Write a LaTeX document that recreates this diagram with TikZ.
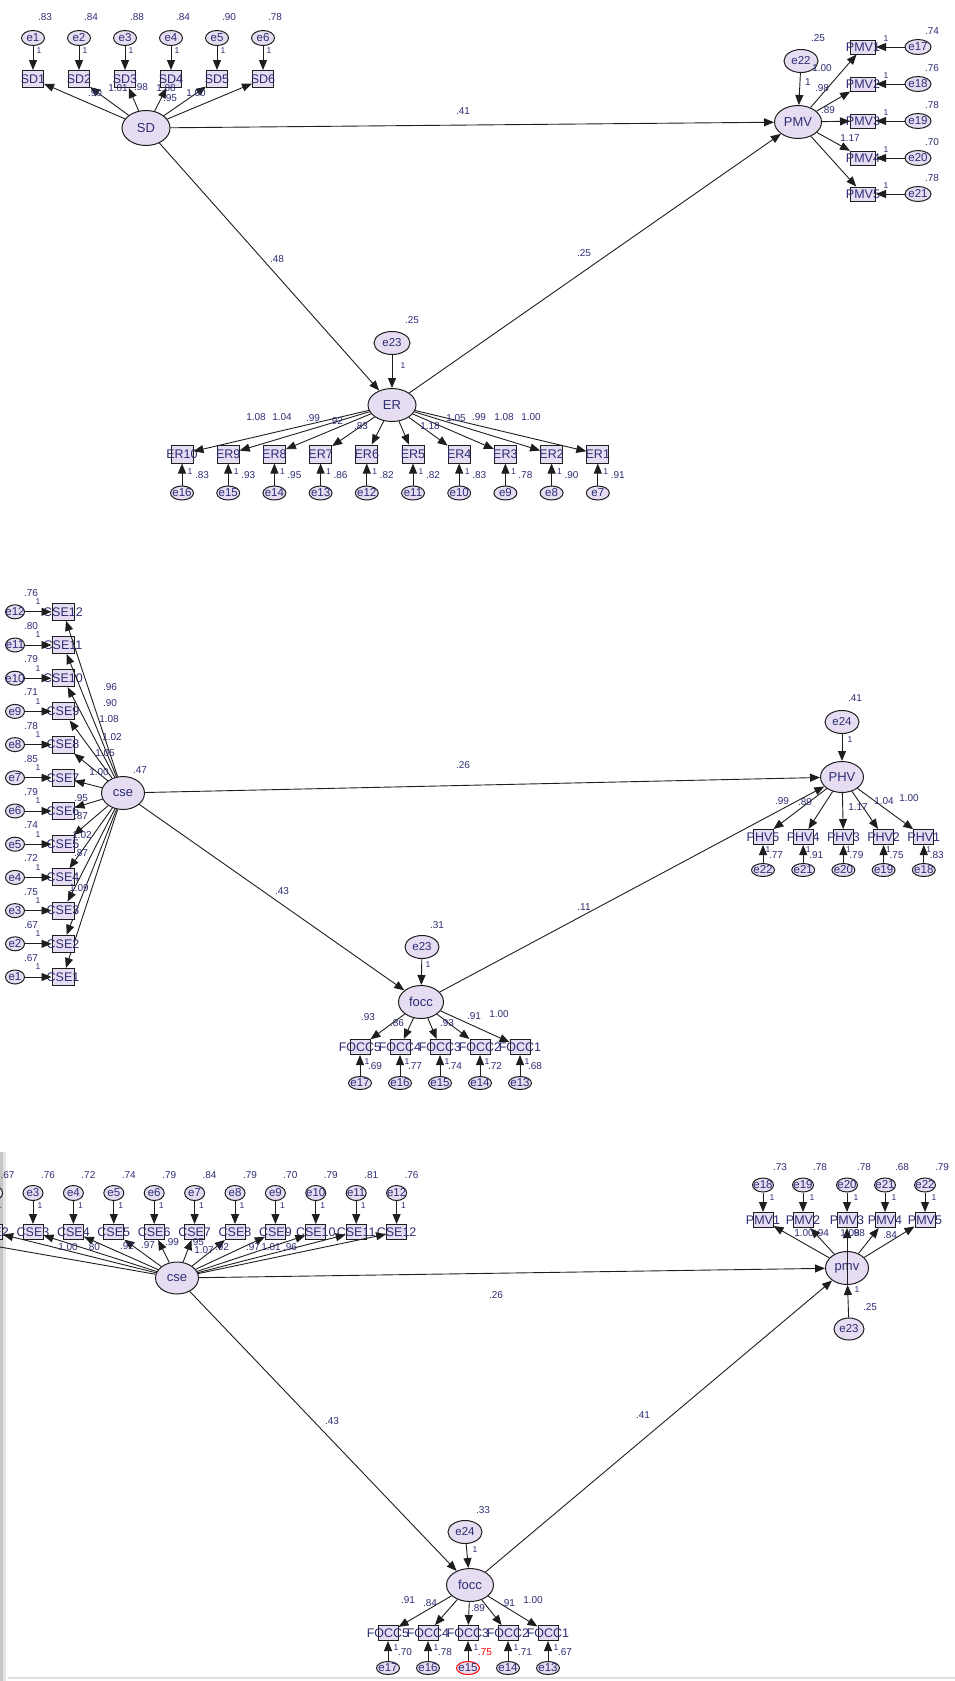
\documentclass[tikz,border=0pt]{standalone}
\usepackage{fontspec}
\setmainfont{Liberation Sans}
\usetikzlibrary{shapes.geometric,arrows.meta}
\definecolor{nodefill}{RGB}{230,221,242}
\definecolor{txtc}{RGB}{45,45,115}
\definecolor{linec}{RGB}{30,30,30}
\newcommand{\nm}[1]{\makebox[0pt]{#1}}
\tikzset{
  lat/.style={ellipse,draw=linec,fill=nodefill,line width=1pt,minimum width=46pt,minimum height=33pt,inner sep=0pt,text=txtc,font=\fontsize{13}{13}\selectfont},
  obs/.style={rectangle,draw=linec,fill=nodefill,line width=1pt,minimum width=21pt,minimum height=17pt,inner sep=0pt,text=txtc,font=\fontsize{12.5}{13}\selectfont},
  err/.style={ellipse,draw=linec,fill=nodefill,line width=1pt,minimum width=23pt,minimum height=15pt,inner sep=0pt,text=txtc,font=\fontsize{11.5}{12}\selectfont},
  dist/.style={err,minimum width=34pt,minimum height=23pt},
  lbl/.style={inner sep=0pt,text=txtc,font=\fontsize{10}{10}\selectfont},
  one/.style={inner sep=0pt,text=txtc,font=\fontsize{8.5}{9}\selectfont},
  arr/.style={draw=linec,line width=0.9pt,-{Triangle[length=10pt,width=8pt]}},
}
\begin{document}
\begin{tikzpicture}[x=1pt,y=-1pt]
  \useasboundingbox (0,0) rectangle (955,1681);
  \clip (0,0) rectangle (955,1681);

  % top model: SD, ER, PMV
  \node[lat,minimum width=48pt,minimum height=35pt] (sd) at (146,128) {\nm{SD}};
  \foreach \v [count=\i] in {.83,.84,.88,.84,.90,.78} {
    \node[err] (esd\i) at (33+46*\i-46,38) {\nm{e\i}};
    \node[obs] (sd\i) at (33+46*\i-46,79) {\nm{SD\i}};
    \node[lbl] (vsd\i) at (45+46*\i-46,17) {\v};
    \node[one] (osd\i) at (39+46*\i-46,51) {1};
    \draw[arr] (esd\i) -- (sd\i);
    \draw[arr] (sd) -- (sd\i);
  }
  \foreach \lab/\x/\y [count=\i] in {.90/95/93,1.01/118/88,.98/141/87,1.08/166/88,.95/170/98,1.00/196/93}
    \node[lbl] (lsd\i) at (\x,\y) {\lab};

  \node[lat,minimum width=47pt] (pmva) at (798,122) {\nm{PMV}};
  \node[dist] (ea22) at (801,61) {\nm{e22}};
  \draw[arr] (ea22) -- (pmva);
  \foreach \y/\v [count=\i] in {47/.74,84/.76,121/.78,158/.70,194/.78} {
    \pgfmathtruncatemacro\en{16+\i}
    \node[obs,minimum width=25pt,minimum height=14pt] (pmva\i) at (863,\y) {\nm{PMV\i}};
    \node[err,minimum width=26pt] (epmva\i) at (918,\y) {\nm{e\en}};
    \node[lbl] (vpmva\i) at (932,\y-16) {\v};
    \node[one] (opmva\i) at (886,\y-8) {1};
    \draw[arr] (epmva\i) -- (pmva\i);
    \draw[arr] (pmva) -- (pmva\i);
  }
  \foreach \lab/\x/\y [count=\i] in {.25/818/38,1/808/82,1.00/822/68,.98/822/88,.89/828/110,1.17/850/138}
    \node[lbl] (lpmva\i) at (\x,\y) {\lab};

  \node[lat,minimum width=48pt] (er) at (392,405) {\nm{ER}};
  \node[dist,minimum width=36pt] (ea23) at (392,343) {\nm{e23}};
  \draw[arr] (ea23) -- (er);
  \foreach \v [count=\i] in {.83,.93,.95,.86,.82,.82,.83,.78,.90,.91} {
    \pgfmathtruncatemacro\nr{11-\i}
    \pgfmathtruncatemacro\en{17-\i}
    \node[obs,minimum width=22pt,minimum height=18pt] (er\nr) at (182+46.2*\i-46.2,454) {\nm{ER\nr}};
    \node[err,minimum height=14pt] (eer\nr) at (182+46.2*\i-46.2,493) {\nm{e\en}};
    \node[lbl] (ver\nr) at (202+46.2*\i-46.2,475) {\v};
    \node[one] (oer\nr) at (190+46.2*\i-46.2,472) {1};
    \draw[arr] (eer\nr) -- (er\nr);
    \draw[arr] (er) -- (er\nr);
  }
  \foreach \lab/\x/\y [count=\i] in {1.08/256/417,1.04/282/417,.99/313/418,.92/336/421,.83/361/426,1.18/430/426,1.05/456/418,.99/479/417,1.08/504/417,1.00/531/417}
    \node[lbl] (ler\i) at (\x,\y) {\lab};
  \node[lbl] (ler0) at (412,320) {.25};
  \node[one] (oer0) at (403,366) {1};

  \draw[arr] (sd) -- (pmva);
  \draw[arr] (sd) -- (er);
  \draw[arr] (er) -- (pmva);
  \node[lbl] (pa1) at (463,111) {.41};
  \node[lbl] (pa2) at (277,259) {.48};
  \node[lbl] (pa3) at (584,253) {.25};

  % middle model: cse, focc, PHV
  \node[lat,minimum width=43pt] (cseb) at (123,793) {\nm{cse}};
  \foreach \v [count=\k] in {.67,.67,.75,.72,.74,.79,.85,.78,.71,.79,.80,.76} {
    \node[obs,minimum width=22pt] (cseb\k) at (63,977-33.2*\k+33.2) {\nm{CSE\k}};
    \node[err,minimum width=19pt,minimum height=14pt] (ecseb\k) at (15,977-33.2*\k+33.2) {\nm{e\k}};
    \node[lbl] (vcseb\k) at (31,958-33.2*\k+33.2) {\v};
    \node[one] (ocseb\k) at (38,967-33.2*\k+33.2) {1};
    \draw[arr] (ecseb\k) -- (cseb\k);
    \draw[arr] (cseb) -- (cseb\k);
  }
  \foreach \lab/\x/\y [count=\i] in {.96/110/687,.90/110/703,1.08/109/719,1.02/112/737,1.05/105/753,1.00/99/772,.95/81/798,.87/81/816,1.02/82/835,.87/81/853,1.09/79/888}
    \node[lbl] (lcseb\i) at (\x,\y) {\lab};
  \node[lbl] (lcseb0) at (140,770) {.47};

  \node[lat,minimum width=43pt,minimum height=31pt] (phv) at (842,777) {\nm{PHV}};
  \node[dist] (eb24) at (842,722) {\nm{e24}};
  \draw[arr] (eb24) -- (phv);
  \foreach \v [count=\i] in {.77,.91,.79,.75,.83} {
    \pgfmathtruncatemacro\nr{6-\i}
    \pgfmathtruncatemacro\en{23-\i}
    \node[obs,minimum width=20pt,minimum height=15pt] (phv\nr) at (763+40.2*\i-40.2,837) {\nm{PHV\nr}};
    \node[err,minimum height=13pt] (ephv\nr) at (763+40.2*\i-40.2,870) {\nm{e\en}};
    \node[lbl] (vphv\nr) at (776+40.2*\i-40.2,855) {\v};
    \node[one] (ophv\nr) at (768+40.2*\i-40.2,850) {1};
    \draw[arr] (ephv\nr) -- (phv\nr);
    \draw[arr] (phv) -- (phv\nr);
  }
  \foreach \lab/\x/\y [count=\i] in {.99/782/801,.89/805/802,1.17/858/807,1.04/884/801,1.00/909/798}
    \node[lbl] (lphv\i) at (\x,\y) {\lab};
  \node[lbl] (lphv0) at (855,698) {.41};
  \node[one] (ophv0) at (850,740) {1};

  \node[lat,minimum width=45pt] (foccb) at (421,1002) {\nm{focc}};
  \node[dist] (eb23) at (422,947) {\nm{e23}};
  \draw[arr] (eb23) -- (foccb);
  \foreach \v [count=\i] in {.69,.77,.74,.72,.68} {
    \pgfmathtruncatemacro\nr{6-\i}
    \pgfmathtruncatemacro\en{18-\i}
    \node[obs,minimum width=20pt,minimum height=15pt] (foccb\nr) at (360+40*\i-40,1047) {\nm{FOCC\nr}};
    \node[err,minimum height=13pt] (efoccb\nr) at (360+40*\i-40,1083) {\nm{e\en}};
    \node[lbl] (vfoccb\nr) at (375+40*\i-40,1066) {\v};
    \node[one] (ofoccb\nr) at (367+40*\i-40,1062) {1};
    \draw[arr] (efoccb\nr) -- (foccb\nr);
    \draw[arr] (foccb) -- (foccb\nr);
  }
  \foreach \lab/\x/\y [count=\i] in {.93/368/1017,.86/397/1023,.93/447/1023,.91/474/1016,1.00/499/1014}
    \node[lbl] (lfoccb\i) at (\x,\y) {\lab};
  \node[lbl] (lfoccb0) at (437,925) {.31};
  \node[one] (ofoccb0) at (428,965) {1};

  \draw[arr] (cseb) -- (phv);
  \draw[arr] (cseb) -- (foccb);
  \draw[arr] (foccb) -- (phv);
  \node[lbl] (pb1) at (463,765) {.26};
  \node[lbl] (pb2) at (282,891) {.43};
  \node[lbl] (pb3) at (584,907) {.11};

  % bottom model: cse, focc, pmv
  \fill[gray!45] (0,1152) rectangle (3,1681);
  \fill[gray!20] (3,1152) rectangle (6,1681);
  \draw[gray!25,line width=1.5pt] (8,1678) -- (955,1678);

  \node[lat,minimum width=43pt,minimum height=32pt] (csec) at (177,1278) {\nm{cse}};
  \coordinate (csec1) at (-40,1240);
  \draw[arr] (csec) -- (csec1);
  \foreach \v [count=\k from 2] in {.67,.76,.72,.74,.79,.84,.79,.70,.79,.81,.76} {
    \node[obs,minimum width=20pt,minimum height=15pt] (csec\k) at (33+40.4*\k-121.2,1232) {\nm{CSE\k}};
    \node[err,minimum width=20pt] (ecsec\k) at (33+40.4*\k-121.2,1193) {\nm{e\k}};
    \node[lbl] (vcsec\k) at (48+40.4*\k-121.2,1175) {\v};
    \node[one] (ocsec\k) at (40+40.4*\k-121.2,1206) {1};
    \draw[arr] (ecsec\k) -- (csec\k);
    \draw[arr] (csec) -- (csec\k);
  }
  \foreach \lab/\x/\y [count=\i] in {1.00/68/1247,.80/93/1247,.92/127/1246,.97/148/1245,.99/172/1242,.95/197/1242,1.07/204/1250,.92/222/1247,.97/253/1247,1.01/271/1247,.96/290/1247}
    \node[lbl] (lcsec\i) at (\x,\y) {\lab};

  \node[lat,minimum width=43pt] (pmvc) at (847,1268) {\nm{pmv}};
  \node[dist,minimum width=30pt,minimum height=22pt] (ec23) at (849,1329) {\nm{e23}};
  \foreach \x/\v [count=\i] in {763/.73,803/.78,847/.78,885/.68,925/.79} {
    \pgfmathtruncatemacro\en{17+\i}
    \node[obs,minimum width=20pt,minimum height=15pt] (pmvc\i) at (\x,1220) {\nm{PMV\i}};
    \node[err,minimum width=21pt,minimum height=14pt] (epmvc\i) at (\x,1185) {\nm{e\en}};
    \node[lbl] (vpmvc\i) at (\x+17,1167) {\v};
    \node[one] (opmvc\i) at (\x+9,1198) {1};
    \draw[arr] (epmvc\i) -- (pmvc\i);
    \draw[arr] (pmvc) -- (pmvc\i);
  }
  \draw[arr] (ec23) -- (pmvc);
  \draw[draw=linec,line width=0.9pt] (pmvc.south) -- (pmvc.north);
  \foreach \lab/\x/\y [count=\i] in {1.00/804/1233,.94/822/1233,1.08/850/1233,.98/858/1233,.84/890/1235}
    \node[lbl] (lpmvc\i) at (\x,\y) {\lab};
  \node[lbl] (lpmvc0) at (870,1307) {.25};
  \node[one] (opmvc0) at (857,1290) {1};

  \node[lat,minimum width=47pt] (foccc) at (470,1585) {\nm{focc}};
  \node[dist] (ec24) at (465,1532) {\nm{e24}};
  \draw[arr] (ec24) -- (foccc);
  \foreach \v/\c/\d [count=\i] in {.70/txtc/linec,.78/txtc/linec,.75/red/red,.71/txtc/linec,.67/txtc/linec} {
    \pgfmathtruncatemacro\nr{6-\i}
    \pgfmathtruncatemacro\en{18-\i}
    \node[obs,minimum width=20pt,minimum height=15pt] (foccc\nr) at (388+40*\i-40,1633) {\nm{FOCC\nr}};
    \node[err,minimum height=13pt,draw=\d] (efoccc\nr) at (388+40*\i-40,1668) {\nm{e\en}};
    \node[lbl,text=\c] (vfoccc\nr) at (405+40*\i-40,1652) {\v};
    \node[one] (ofoccc\nr) at (396+40*\i-40,1648) {1};
    \draw[arr] (efoccc\nr) -- (foccc\nr);
    \draw[arr] (foccc) -- (foccc\nr);
  }
  \foreach \lab/\x/\y [count=\i] in {.91/408/1600,.84/430/1603,.89/478/1608,.91/508/1603,1.00/533/1600}
    \node[lbl] (lfoccc\i) at (\x,\y) {\lab};
  \node[lbl] (lfoccc0) at (483,1510) {.33};
  \node[one] (ofoccc0) at (475,1550) {1};

  \draw[arr] (csec) -- (pmvc);
  \draw[arr] (csec) -- (foccc);
  \draw[arr] (foccc) -- (pmvc);
  \node[lbl] (pc1) at (496,1295) {.26};
  \node[lbl] (pc2) at (332,1421) {.43};
  \node[lbl] (pc3) at (643,1415) {.41};
\end{tikzpicture}
\end{document}
